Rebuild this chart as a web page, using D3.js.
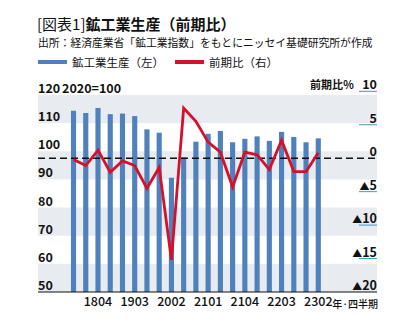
<!DOCTYPE html>
<html>
<head>
<meta charset="utf-8">
<script src="https://cdn.jsdelivr.net/npm/d3@7"></script>
<style>
  body { margin: 0; background: #fff; }
  svg { font-family: "Noto Sans CJK JP", "Noto Sans", sans-serif; }
</style>
</head>
<body>
<div class="vis-chart"></div>
<script>
// quarters (YYQ), 2020=100 index and quarter-on-quarter change (%)
const quarters = ["1802", "1803", "1804", "1901", "1902", "1903", "1904", "2001", "2002", "2003", "2004",
  "2101", "2102", "2103", "2104", "2201", "2202", "2203", "2204", "2301", "2302"];
const production = [114.4, 113.6, 115.4, 113.2, 113.4, 112.5, 107.8, 106.6, 90.6, 97.8, 103.4,
  106.2, 107.2, 103.2, 104.4, 105.3, 103.7, 106.9, 105.1, 103.2, 104.6];
const change = [-0.2, -1.1, 1.2, -2.1, -0.4, -1.1, -4.5, -1.4, -15.2, 7.5, 5.5,
  2.4, 0.9, -4.3, 0.9, 0.5, -1.7, 2.7, -2.0, -2.0, 0.8];
const leftTicks = [50, 60, 70, 80, 90, 100, 110, 120];
const rightTicks = [-20, -15, -10, -5, 0, 5, 10];
const xLabels = ["1804", "1903", "2002", "2101", "2104", "2203", "2302"];

const W = 412, H = 331;
const plotLeft = 38, plotRight = 377, plotTop = 95, plotBottom = 292;
const blue = "#4f81bd", red = "#d7102a";

const svg = d3.select(".vis-chart").append("svg")
  .attr("width", W).attr("height", H);

// scales
const x = d3.scaleBand().domain(quarters).range([67.4, 324.4]).paddingInner(0.58).paddingOuter(0.29);
const yL = d3.scaleLinear().domain([50, 120]).range([plotBottom, plotTop]);
const yR = d3.scaleLinear().domain([-20, 10]).range([plotBottom, 91.3]);

// title block
const title = svg.append("text").attr("x", 37).attr("y", 30).attr("font-size", 15).attr("fill", "#111");
title.append("tspan").text("[図表1]");
title.append("tspan").attr("font-weight", "bold").text("鉱工業生産（前期比）");

svg.append("text").attr("x", 38).attr("y", 47).attr("font-size", 10.8).attr("fill", "#111")
  .text("出所：経済産業省「鉱工業指数」をもとにニッセイ基礎研究所が作成");

// legend
const legend = [
  { label: "鉱工業生産（左）", color: blue, x: 38 },
  { label: "前期比（右）", color: red, x: 175 }
];
legend.forEach((d) => {
  svg.append("rect").attr("x", d.x).attr("y", 60).attr("width", 29).attr("height", 4).attr("fill", d.color);
  svg.append("text").attr("x", d.x + 34).attr("y", 66.5).attr("font-size", 11.5).attr("fill", "#111").text(d.label);
});

// stripes
const stripes = leftTicks.filter((v, i) => i % 2 === 0 && v < 120);
svg.append("g").selectAll("rect").data(stripes).join("rect")
  .attr("x", plotLeft).attr("width", plotRight - plotLeft)
  .attr("y", (v) => yL(v + 10)).attr("height", (v) => yL(v) - yL(v + 10))
  .attr("fill", "#e8ebef");

// bars
svg.append("g").selectAll("rect").data(quarters).join("rect")
  .attr("x", (q) => x(q)).attr("width", x.bandwidth())
  .attr("y", (q, i) => yL(production[i]))
  .attr("height", (q, i) => plotBottom - yL(production[i]))
  .attr("fill", blue);

// left labels
svg.append("g").selectAll("text").data(leftTicks).join("text")
  .attr("x", plotLeft).attr("y", (v) => yL(v) - 2)
  .attr("font-size", 12.5).attr("font-weight", "bold").attr("fill", "#111")
  .text((v) => v);
svg.append("text").attr("x", 62).attr("y", yL(120) - 2)
  .attr("font-size", 12.5).attr("font-weight", "bold").attr("fill", "#111").text("2020=100");

// right labels with short underlines
svg.append("g").selectAll("line").data(rightTicks.filter((v) => v !== 0 && v !== -20)).join("line")
  .attr("x1", 359).attr("x2", plotRight)
  .attr("y1", (v) => yR(v)).attr("y2", (v) => yR(v))
  .attr("stroke", "#3d9cc4").attr("stroke-width", 1);
const rLabels = svg.append("g").selectAll("text").data(rightTicks).join("text")
  .attr("x", plotRight).attr("y", (v) => yR(v) - 2)
  .attr("text-anchor", "end")
  .attr("font-size", 12.5).attr("font-weight", "bold").attr("fill", "#111");
rLabels.filter((v) => v < 0).append("tspan").attr("font-size", 10).text("▲");
rLabels.append("tspan").text((v) => Math.abs(v));
svg.append("text").attr("x", 354).attr("y", yR(10) - 2).attr("text-anchor", "end")
  .attr("font-size", 11).attr("font-weight", "bold").attr("fill", "#111").text("前期比％");

// zero line
svg.append("line").attr("x1", plotLeft).attr("x2", plotRight)
  .attr("y1", yR(0)).attr("y2", yR(0))
  .attr("stroke", "#111").attr("stroke-width", 1.6).attr("stroke-dasharray", "7,4");

// change line
const line = d3.line()
  .x((d, i) => x(quarters[i]) + x.bandwidth() / 2)
  .y((d) => yR(d));
svg.append("path").datum(change)
  .attr("d", line).attr("fill", "none")
  .attr("stroke", red).attr("stroke-width", 2.8).attr("stroke-linejoin", "miter");

// x axis
svg.append("line").attr("x1", plotLeft).attr("x2", plotRight).attr("y1", plotBottom).attr("y2", plotBottom)
  .attr("stroke", "#111").attr("stroke-width", 1.2);
const xAxis = svg.append("g").attr("transform", "translate(0," + plotBottom + ")")
  .call(d3.axisBottom(x).tickValues(xLabels).tickSize(0).tickPadding(5));
xAxis.select(".domain").remove();
xAxis.selectAll("text").attr("font-size", 12.5).attr("font-weight", 500)
  .attr("fill", "#111").attr("font-family", "'Noto Sans CJK JP', sans-serif");
const last = quarters[quarters.length - 1];
svg.append("text").attr("x", x(last) + x.bandwidth() / 2 + 14).attr("y", plotBottom + 15.5)
  .attr("font-size", 10).attr("font-weight", 500).attr("fill", "#111").text("年·四半期");
</script>
</body>
</html>
